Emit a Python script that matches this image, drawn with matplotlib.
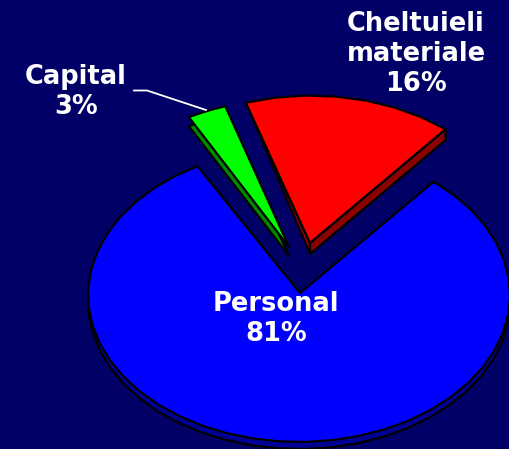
import numpy as np
import matplotlib
matplotlib.use("Agg")
import matplotlib.pyplot as plt

categories = ["Personal", "Capital", "Cheltuieli\nmateriale"]
values = [81, 3, 16]
percent_labels = ["81%", "3%", "16%"]
face_colors = ["#0000FF", "#00FF00", "#FF0000"]
side_colors = ["#000099", "#008800", "#8B0000"]

BG = "#000066"
RX, RY = 211, 147
START = 39.6
# ellipse centre, wedge apex, label centre for each slice (pixels)
centers = [(299, 295), (290.5, 246), (311, 242.5)]
apexes = [(300, 293), (289, 247), (310, 243)]
depths = [7, 9, 11]
label_pos = [(276, 319), (76, 92), (416, 54)]

fig = plt.figure(figsize=(5.10, 4.49), dpi=100, facecolor=BG)
ax = fig.add_axes([0, 0, 1, 1], facecolor=BG)
ax.set_xlim(0, 510)
ax.set_ylim(449, 0)
ax.axis("off")

total = sum(values)
angle = START
for i, v in enumerate(values):
    sweep = v / total * 360
    t = np.radians(np.linspace(angle, angle + sweep, max(4, int(sweep / 7))))
    angle += sweep
    cx, cy = centers[i]
    ax_, ay_ = apexes[i]
    xs = cx + RX * np.sin(t)
    ys = cy - RY * np.cos(t)
    px = np.r_[ax_, xs]
    py = np.r_[ay_, ys]
    d = depths[i]
    kw = dict(edgecolor="black", linewidth=1.6, joinstyle="round")
    if i == 2:
        # right face (constant depth) and tapered left face
        ax.fill([ax_, xs[-1], xs[-1], ax_], [ay_, ys[-1], ys[-1] + d, ay_ + d],
                facecolor=side_colors[i], **kw)
        ax.fill([ax_, xs[0], ax_], [ay_, ys[0], ay_ + d],
                facecolor=side_colors[i], **kw)
    else:
        ax.fill(px, py + d, facecolor=side_colors[i], **kw)
    ax.fill(px, py, facecolor=face_colors[i], **kw)
    text = f"{categories[i]}\n{percent_labels[i]}"
    ax.text(*label_pos[i], text, color="white", fontsize=18.5, fontweight="bold",
            family="DejaVu Sans", ha="center", va="center", linespacing=1.2)

ax.plot([134, 147, 206], [90.5, 90.5, 110], color="white", lw=1.3, zorder=1)

fig.savefig("out.png", dpi=100, facecolor=BG)
